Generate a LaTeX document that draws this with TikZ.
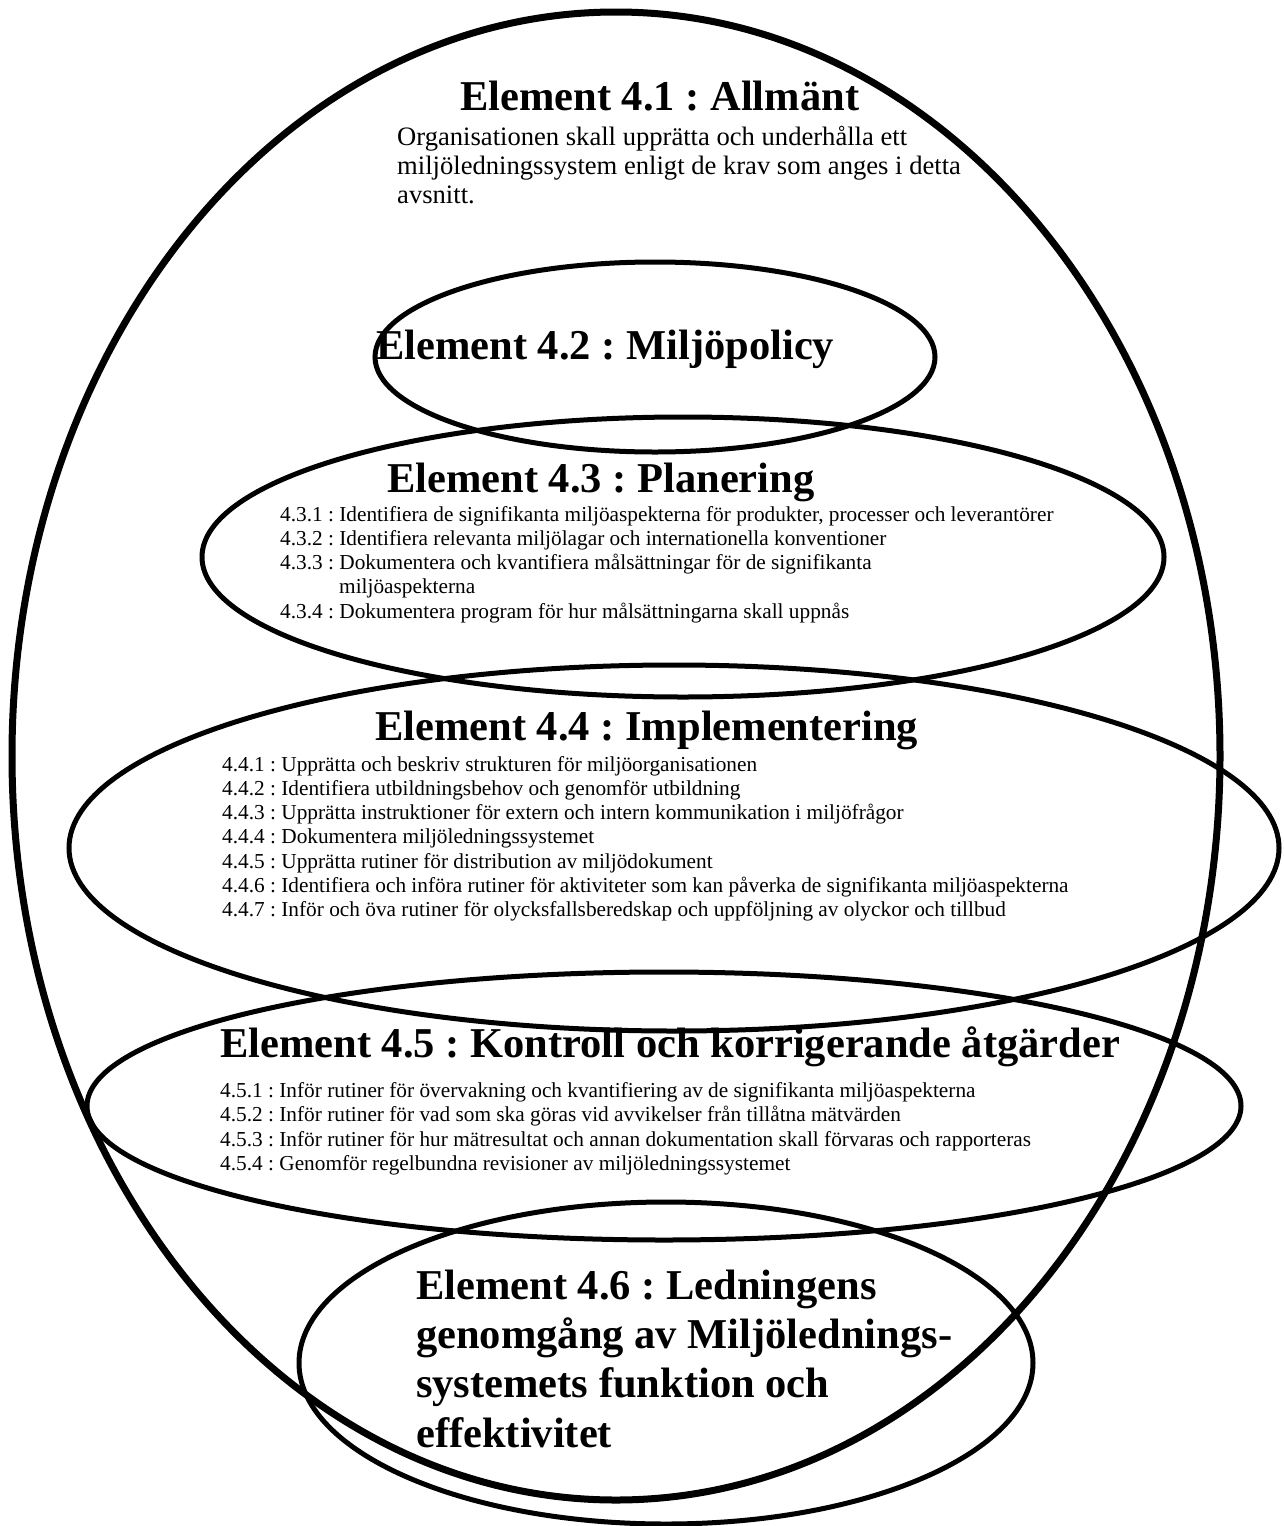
\documentclass[tikz,border=0pt]{standalone}
\usepackage{fontspec}
\setmainfont{Liberation Serif}
\frenchspacing
\tikzset{
  eltitle/.style={font=\fontsize{42.5}{49.3}\selectfont\bfseries, anchor=base west, inner sep=0pt, align=left},
  elbody/.style={font=\fontsize{26.6}{29}\selectfont, anchor=base west, inner sep=0pt},
  elitem/.style={font=\fontsize{21.3}{24.4}\selectfont, anchor=base west, inner sep=0pt},
  outerring/.style={line width=7pt},
  ring/.style={line width=5pt},
}
\begin{document}
\begin{tikzpicture}[x=1pt,y=-1pt]
\useasboundingbox (0,0) rectangle (1284,1526);
% ellipses
\draw[outerring] (616,756) ellipse [x radius=604pt, y radius=744pt];
\draw[ring] (655,357) ellipse [x radius=280pt, y radius=95pt];
\draw[ring] (683,557) ellipse [x radius=481pt, y radius=140pt];
\draw[ring] (674,848) ellipse [x radius=605pt, y radius=183pt];
\draw[ring] (664,1106) ellipse [x radius=577pt, y radius=134pt];
\draw[ring] (666,1363) ellipse [x radius=367pt, y radius=161pt];
% 4.1
\node[eltitle] (t41) at (460,110) {Element 4.1 : Allmänt};
\node[elbody] (b41a) at (397,145) {Organisationen skall upprätta och underhålla ett};
\node[elbody] (b41b) at (397,174) {miljöledningssystem enligt de krav som anges i detta};
\node[elbody] (b41c) at (397,203) {avsnitt.};
% 4.2
\node[eltitle] (t42) at (376,359) {Element 4.2 : Miljöpolicy};
% 4.3
\node[eltitle] (t43) at (387,492) {Element 4.3 : Planering};
\node[elitem] (i431) at (280,521) {4.3.1 : Identifiera de signifikanta miljöaspekterna för produkter, processer och leverantörer};
\node[elitem] (i432) at (280,545.3) {4.3.2 : Identifiera relevanta miljölagar och internationella konventioner};
\node[elitem] (i433) at (280,569.6) {4.3.3 : Dokumentera och kvantifiera målsättningar för de signifikanta};
\node[elitem] (i433b) at (339,593.9) {miljöaspekterna};
\node[elitem] (i434) at (280,618.2) {4.3.4 : Dokumentera program för hur målsättningarna skall uppnås};
% 4.4
\node[eltitle] (t44) at (375,740) {Element 4.4 : Implementering};
\node[elitem] (i441) at (222,771) {4.4.1 : Upprätta och beskriv strukturen för miljöorganisationen};
\node[elitem] (i442) at (222,795.3) {4.4.2 : Identifiera utbildningsbehov och genomför utbildning};
\node[elitem] (i443) at (222,819.6) {4.4.3 : Upprätta instruktioner för extern och intern kommunikation i miljöfrågor};
\node[elitem] (i444) at (222,843.9) {4.4.4 : Dokumentera miljöledningssystemet};
\node[elitem] (i445) at (222,868.2) {4.4.5 : Upprätta rutiner för distribution av miljödokument};
\node[elitem] (i446) at (222,892.5) {4.4.6 : Identifiera och införa rutiner för aktiviteter som kan påverka de signifikanta miljöaspekterna};
\node[elitem] (i447) at (222,916.8) {4.4.7 : Inför och öva rutiner för olycksfallsberedskap och uppföljning av olyckor och tillbud};
% 4.5
\node[eltitle] (t45) at (220,1057) {Element 4.5 : Kontroll och korrigerande åtgärder};
\node[elitem] (i451) at (220,1097) {4.5.1 : Inför rutiner för övervakning och kvantifiering av de signifikanta miljöaspekterna};
\node[elitem] (i452) at (220,1121.5) {4.5.2 : Inför rutiner för vad som ska göras vid avvikelser från tillåtna mätvärden};
\node[elitem] (i453) at (220,1146) {4.5.3 : Inför rutiner för hur mätresultat och annan dokumentation skall förvaras och rapporteras};
\node[elitem] (i454) at (220,1170.5) {4.5.4 : Genomför regelbundna revisioner av miljöledningssystemet};
% 4.6
\node[eltitle] (t46a) at (416,1299) {Element 4.6 : Ledningens};
\node[eltitle] (t46b) at (416,1348.3) {genomgång av Miljölednings-};
\node[eltitle] (t46c) at (416,1397.6) {systemets funktion och};
\node[eltitle] (t46d) at (416,1447) {effektivitet};
\end{tikzpicture}
\end{document}
